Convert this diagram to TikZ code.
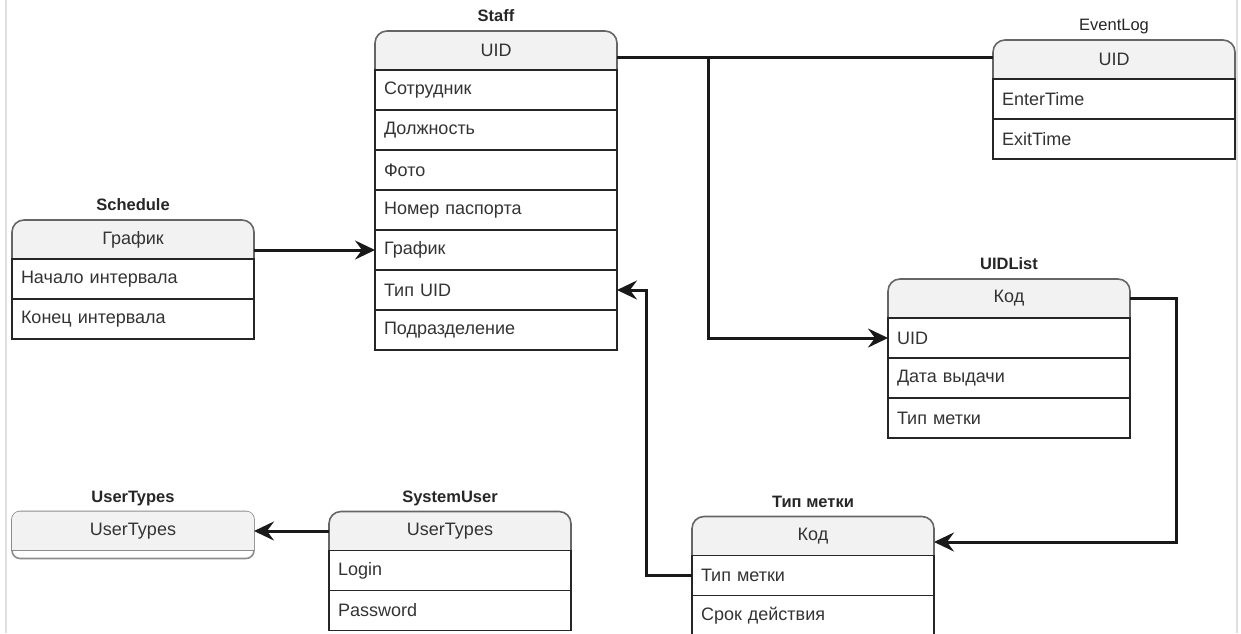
\documentclass[tikz,border=0pt]{standalone}
\usepackage{fontspec}
\setmainfont{Liberation Sans}
\usetikzlibrary{arrows.meta, positioning, backgrounds}

\definecolor{hdrfill}{HTML}{F2F2F2}
\definecolor{txtgray}{HTML}{333333}

\tikzset{
  hdr/.style={minimum width=242pt, minimum height=39pt, inner sep=0pt, outer sep=0pt,
    text=txtgray, font=\fontsize{18}{21}\selectfont},
  attr/.style={draw=black!85, line width=1.6pt, minimum width=242pt, minimum height=40pt,
    inner sep=0pt, outer sep=0pt, text width=224pt, align=left,
    text=txtgray, font=\fontsize{18}{21}\selectfont},
  ttl/.style={inner sep=0pt, text depth=0pt, text=black!85, font=\bfseries\fontsize{16.5}{19}\selectfont},
  conn/.style={line width=3pt, black!90},
  arr/.style={-{Stealth[length=20pt,width=19pt,inset=7pt]}}
}

% шапка таблицы: скругление только сверху
\newcommand{\hdrbox}[1]{\filldraw[fill=hdrfill, draw=black!60, line width=1.6pt, rounded corners=12pt]
  (#1.south west) -- (#1.north west) -- (#1.north east) -- (#1.south east);}

\begin{document}
\begin{tikzpicture}[x=1pt, y=-1pt]
\useasboundingbox (0,0) rectangle (1241,633);
\draw[gray!25, line width=2pt] (6,0) -- (6,633);       % рамка слева
\draw[gray!25, line width=2pt] (1237,0) -- (1237,633); % рамка справа

% Staff
\node[hdr] (sth) at (496,50.5) {UID};
\node[ttl, above=9pt of sth] (stt) {Staff};
\node[attr, below=0pt of sth] (st1) {Сотрудник};
\node[attr, below=0pt of st1] (st2) {Должность};
\node[attr, below=0pt of st2] (st3) {Фото};
\node[attr, below=0pt of st3] (st4) {Номер паспорта};
\node[attr, below=0pt of st4] (st5) {График};
\node[attr, below=0pt of st5] (st6) {Тип UID};
\node[attr, below=0pt of st6] (st7) {Подразделение};

% Schedule
\node[hdr] (sch) at (133,239.5) {График};
\node[ttl, above=9pt of sch] (sct) {Schedule};
\node[attr, below=0pt of sch] (sc1) {Начало интервала};
\node[attr, below=0pt of sc1] (sc2) {Конец интервала};

% EventLog
\node[hdr] (evh) at (1114,59.5) {UID};
\node[ttl, font=\fontsize{16.5}{19}\selectfont, above=9pt of evh] (evt) {EventLog};
\node[attr, below=0pt of evh] (ev1) {EnterTime};
\node[attr, below=0pt of ev1] (ev2) {ExitTime};

% UIDList
\node[hdr] (ulh) at (1009,298.5) {Код};
\node[ttl, above=9pt of ulh] (ult) {UIDList};
\node[attr, below=0pt of ulh] (ul1) {UID};
\node[attr, below=0pt of ul1] (ul2) {Дата выдачи};
\node[attr, below=0pt of ul2] (ul3) {Тип метки};

% Тип метки
\node[hdr] (tmh) at (813,536) {Код};
\node[ttl, above=9pt of tmh] (tmt) {Тип метки};
\node[attr, below=0pt of tmh] (tm1) {Тип метки};
\node[attr, below=0pt of tm1] (tm2) {Срок действия};

% UserTypes
\node[hdr] (uth) at (133,531) {UserTypes};
\node[ttl, above=9pt of uth] (utt) {UserTypes};

% SystemUser
\node[hdr] (suh) at (450,531) {UserTypes};
\node[ttl, above=9pt of suh] (sut) {SystemUser};
\node[attr, below=0pt of suh] (su1) {Login};
\node[attr, below=0pt of su1] (su2) {Password};

\begin{scope}[on background layer]
\hdrbox{sth} \hdrbox{sch} \hdrbox{evh} \hdrbox{ulh} \hdrbox{tmh} \hdrbox{suh}
\filldraw[fill=white, draw=black!45, line width=1.6pt, rounded corners=8pt]
  (uth.north west) rectangle ([yshift=-8pt]uth.south east);
\fill[hdrfill, rounded corners=8pt] (uth.south west) -- (uth.north west) -- (uth.north east) -- (uth.south east);
\draw[black!45, line width=1.6pt] (uth.south west) -- (uth.south east);
\end{scope}

% связи
\coordinate (jn) at (708,57);
\draw[conn] (sth.east |- jn) -- (evh.west |- jn);
\draw[conn, arr] (jn) |- (ul1.west);
\draw[conn, arr] (sch.east |- st5.west) -- (st5.west);
\draw[conn, arr] (ulh.east) -- ++(46,0) |- ([yshift=-6pt]tmh.east);
\draw[conn, arr] (tm1.west) -- ++(-46,0) |- (st6.east);
\draw[conn, arr] (suh.west) -- (uth.east);
\end{tikzpicture}
\end{document}
